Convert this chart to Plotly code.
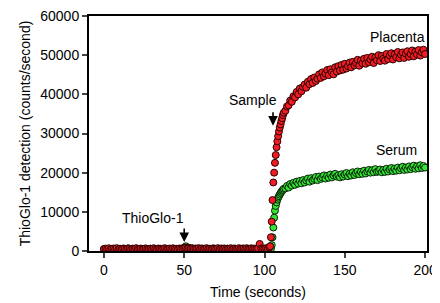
import plotly.graph_objects as go

# ---- data ----
time_base = list(range(0, 104))
placenta_base = [
    520, 610, 450, 700, 380, 560, 640, 490, 720, 410,
    580, 470, 650, 530, 390, 690, 560, 440, 610, 500,
    720, 460, 540, 630, 410, 580, 670, 490, 530, 600,
    450, 700, 520, 380, 640, 560, 480, 610, 700, 430,
    550, 620, 470, 690, 520, 580, 400, 650, 560, 610,
    760, 820, 690, 740, 620, 700, 560, 640, 590, 720,
    480, 660, 550, 610, 700, 520, 590, 450, 680, 600,
    540, 720, 470, 630, 580, 660, 500, 610, 560, 700,
    450, 640, 590, 530, 720, 480, 610, 650, 560, 700,
    520, 600, 680, 540, 620, 560, 700, 1800, 640, 580,
    620, 700, 560, 900,
]
serum_base = [
    430, 380, 520, 460, 350, 490, 410, 560, 380, 470,
    520, 400, 450, 560, 380, 470, 530, 420, 490, 360,
    450, 540, 410, 480, 380, 520, 440, 490, 400, 560,
    470, 380, 510, 450, 420, 560, 390, 480, 520, 440,
    410, 500, 460, 380, 540, 470, 420, 500, 560, 620,
    900, 1200, 820, 760, 640, 560, 500, 450, 530, 480,
    420, 510, 460, 390, 540, 470, 430, 500, 560, 410,
    480, 520, 450, 390, 510, 460, 430, 560, 480, 420,
    500, 460, 540, 410, 470, 520, 440, 490, 400, 550,
    460, 420, 510, 480, 440, 530, 470, 420, 500, 460,
    440, 520, 480, 500,
]

time_rise = [103.5, 104, 104.5, 105, 105.5, 106, 106.5, 107, 107.5,
             108, 108.5, 109, 109.5, 110, 110.5, 111, 111.5, 112]
placenta_rise = [1200, 3500, 7500, 13000, 17500, 20000, 22500, 24500, 26500,
                 28000, 29300, 30500, 31500, 32300, 33200, 33900, 34700, 35300]
serum_rise = [500, 600, 1500, 3500, 6000, 8500, 10300, 11500, 12400,
              13100, 13600, 14000, 14400, 14800, 15100, 15400, 15600, 15900]

time_plateau = list(range(113, 201))
placenta_plateau = [
    35800, 36900, 37200, 38400, 38100, 39500, 39200, 40600,
    40000, 41500, 40800, 41900, 42500, 41700, 43200, 42600,
    43900, 42900, 44300, 43400, 44000, 45100, 44200, 45600,
    44600, 45300, 46200, 44900, 46400, 45600, 45100, 46900,
    45800, 47200, 46100, 47500, 46300, 47800, 46600, 47200,
    48100, 46900, 48300, 47400, 48000, 48800, 47300, 48600,
    47900, 49100, 47800, 49300, 48200, 48900, 49600, 48000,
    49400, 48700, 50000, 48500, 49800, 49100, 48600, 50300,
    49000, 49900, 50500, 48900, 50200, 49500, 50800, 49200,
    50100, 50700, 49300, 50400, 51000, 49600, 50300, 51200,
    49700, 50900, 50200, 51300, 49900, 50700, 51400, 50300,
]
serum_plateau = [
    16000, 16600, 16200, 17100, 16700, 17400, 16900, 17700,
    17200, 17900, 17300, 18100, 17500, 18000, 18500, 17700,
    18600, 18000, 18400, 18900, 18100, 19000, 18400, 18800,
    19300, 18500, 19200, 18700, 19500, 18800, 19300, 19700,
    19000, 19300, 18800, 19600, 19000, 19500, 19900, 19100,
    19700, 19300, 20100, 19400, 19900, 20300, 19600, 20200,
    19700, 20500, 19800, 20300, 20700, 20000, 20600, 20100,
    20900, 20200, 20400, 20800, 20100, 20700, 20200, 21000,
    20300, 20800, 21200, 20400, 21000, 20500, 21300, 20600,
    21100, 21500, 20700, 21300, 20800, 21600, 20900, 21400,
    21800, 21000, 21600, 21100, 21900, 21200, 21700, 21300,
]

x_ticks = [0, 50, 100, 150, 200]
y_ticks = [0, 10000, 20000, 30000, 40000, 50000, 60000]

time = time_base + time_rise + time_plateau
placenta = placenta_base + placenta_rise + placenta_plateau
serum = serum_base + serum_rise + serum_plateau

fig = go.Figure()
fig.add_trace(go.Scatter(
    x=time, y=serum, mode="markers", name="Serum",
    marker=dict(size=7, color="#33e633", line=dict(color="#0a200a", width=1)),
))
fig.add_trace(go.Scatter(
    x=time, y=placenta, mode="markers", name="Placenta",
    marker=dict(size=7, color="#f01c24", line=dict(color="#2a0000", width=1)),
))

font = dict(family="Liberation Sans, Arial, sans-serif", size=14, color="black")

annotations = [
    dict(x=183, y=54600, text="Placenta", showarrow=False, font=font),
    dict(x=182.5, y=25800, text="Serum", showarrow=False, font=font),
    dict(x=92.8, y=38500, text="Sample", showarrow=False, font=font),
    dict(x=30.5, y=8400, text="ThioGlo-1", showarrow=False, font=font),
    dict(x=105.3, y=32000, text="", showarrow=True, arrowhead=2, arrowsize=1.2,
         arrowwidth=1.6, arrowcolor="black", ax=0, ay=-15),
    dict(x=50, y=2300, text="", showarrow=True, arrowhead=2, arrowsize=1.2,
         arrowwidth=1.6, arrowcolor="black", ax=0, ay=-15),
]

# page body has an 8px margin, so the figure is 8px smaller and margins shifted
fig.update_layout(
    width=432, height=295,
    margin=dict(l=81, r=13, t=8, b=52),
    paper_bgcolor="white", plot_bgcolor="white",
    showlegend=False,
    font=font,
    annotations=annotations,
    xaxis=dict(
        range=[-9.3, 201.2], tickvals=x_ticks, ticks="outside", ticklen=5,
        tickwidth=1.5, showline=True, mirror=True, linewidth=2, linecolor="black",
        showgrid=False, zeroline=False, automargin=False,
        ticklabeloverflow="allow",
        title=dict(text="Time (seconds)", standoff=10, font=font),
        tickfont=font,
    ),
    yaxis=dict(
        range=[0, 60000], tickvals=y_ticks, tickformat="d", ticks="outside",
        ticklen=5, tickwidth=1.5, showline=True, mirror=True, linewidth=2,
        linecolor="black", showgrid=False, zeroline=False, automargin=False,
        ticklabeloverflow="allow",
        title=dict(text="ThioGlo-1 detection (counts/second)", standoff=6, font=font),
        tickfont=font,
    ),
)

fig.write_html("out.html")
